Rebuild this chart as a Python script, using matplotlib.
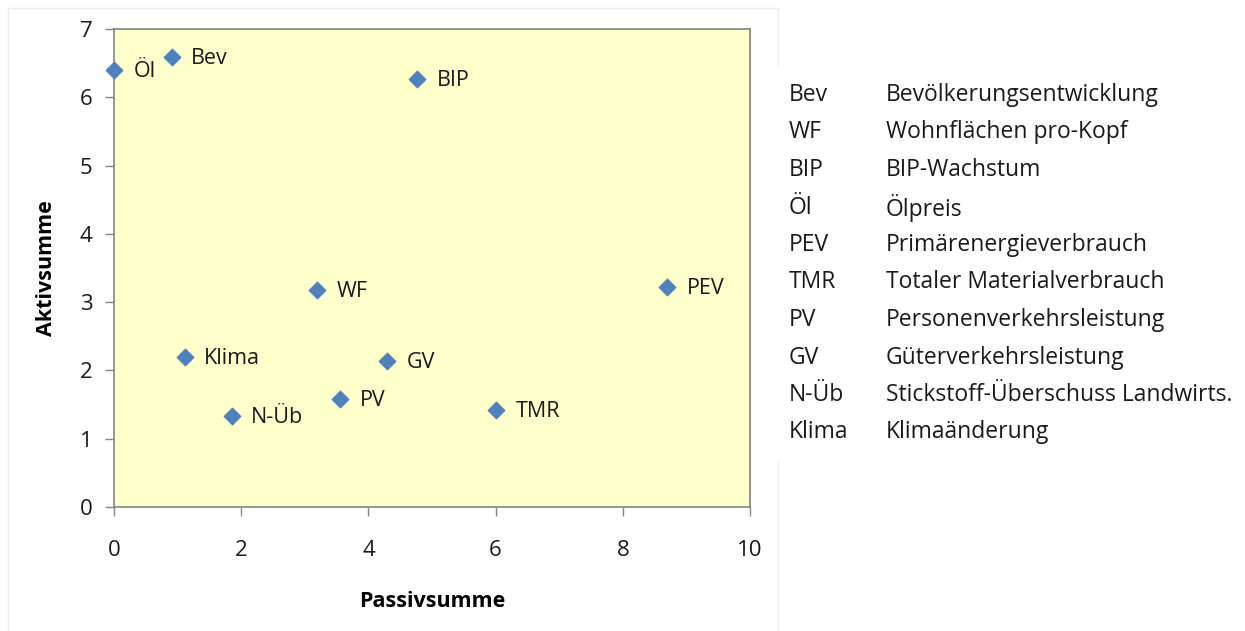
import matplotlib.pyplot as plt
from matplotlib.lines import Line2D

plt.rcParams['font.family'] = ['Open Sans', 'DejaVu Sans']

# Daten: Passivsumme (x), Aktivsumme (y)
kuerzel = ['Öl', 'Bev', 'BIP', 'WF', 'PEV', 'Klima', 'GV', 'PV', 'N-Üb', 'TMR']
passiv = [0.0, 0.91, 4.77, 3.19, 8.70, 1.11, 4.30, 3.56, 1.85, 6.01]
aktiv = [6.40, 6.59, 6.27, 3.18, 3.22, 2.20, 2.14, 1.58, 1.33, 1.42]

# Legende rechts
leg_kurz = ['Bev', 'WF', 'BIP', 'Öl', 'PEV', 'TMR', 'PV', 'GV', 'N-Üb', 'Klima']
leg_lang = ['Bevölkerungsentwicklung', 'Wohnflächen pro-Kopf', 'BIP-Wachstum',
            'Ölpreis', 'Primärenergieverbrauch', 'Totaler Materialverbrauch',
            'Personenverkehrsleistung', 'Güterverkehrsleistung',
            'Stickstoff-Überschuss Landwirts.', 'Klimaänderung']

fig = plt.figure(figsize=(12.45, 6.31), dpi=100)
ax = fig.add_axes([114/1245, 1-507/631, 636/1245, 478/631])
ax.set_facecolor('#FFFFCC')

ax.scatter(passiv, aktiv, marker='D', s=70, color='#4F81BD', zorder=3, clip_on=False)
for k, x, y in zip(kuerzel, passiv, aktiv):
    ax.annotate(k, (x, y), xytext=(14, -1), textcoords='offset points',
                va='center', ha='left', fontsize=15.5, color='#1a1a1a')

ax.set_xlim(0, 10)
ax.set_ylim(0, 7)
ax.set_xticks(range(0, 11, 2))
ax.set_yticks(range(0, 8))
ax.tick_params(direction='out', length=6.5, width=1, color='#868686',
               labelsize=16, labelcolor='#1a1a1a')
ax.tick_params(axis='y', pad=9)
ax.tick_params(axis='x', pad=17)
for s in ['left', 'bottom']:
    ax.spines[s].set_color('#868686')
    ax.spines[s].set_linewidth(1.2)
for s in ['top', 'right']:
    ax.spines[s].set_color('#808080')
    ax.spines[s].set_linewidth(1.2)

ax.set_xlabel('Passivsumme', fontsize=15.5, fontweight='bold', labelpad=22)
ax.set_ylabel('Aktivsumme', fontsize=15.5, fontweight='bold', labelpad=16)

# Rahmen des Diagramms
rc = '#ECECEC'
fig.add_artist(Line2D([8/1245, 778/1245], [1-8/631, 1-8/631], color=rc, lw=1))
fig.add_artist(Line2D([8/1245, 8/1245], [1-8/631, 0], color=rc, lw=1))
fig.add_artist(Line2D([778/1245, 778/1245], [1-8/631, 1-65/631], color=rc, lw=1))
fig.add_artist(Line2D([778/1245, 778/1245], [1-460/631, 0], color=rc, lw=1))

for i, (a, b) in enumerate(zip(leg_kurz, leg_lang)):
    yy = 1 - (95 + i*37.5)/631
    fig.text(789/1245, yy, a, fontsize=16.5, va='center', ha='left', color='#1a1a1a')
    fig.text(886/1245, yy, b, fontsize=16.5, va='center', ha='left', color='#1a1a1a')

fig.savefig('out.png', dpi=100)
